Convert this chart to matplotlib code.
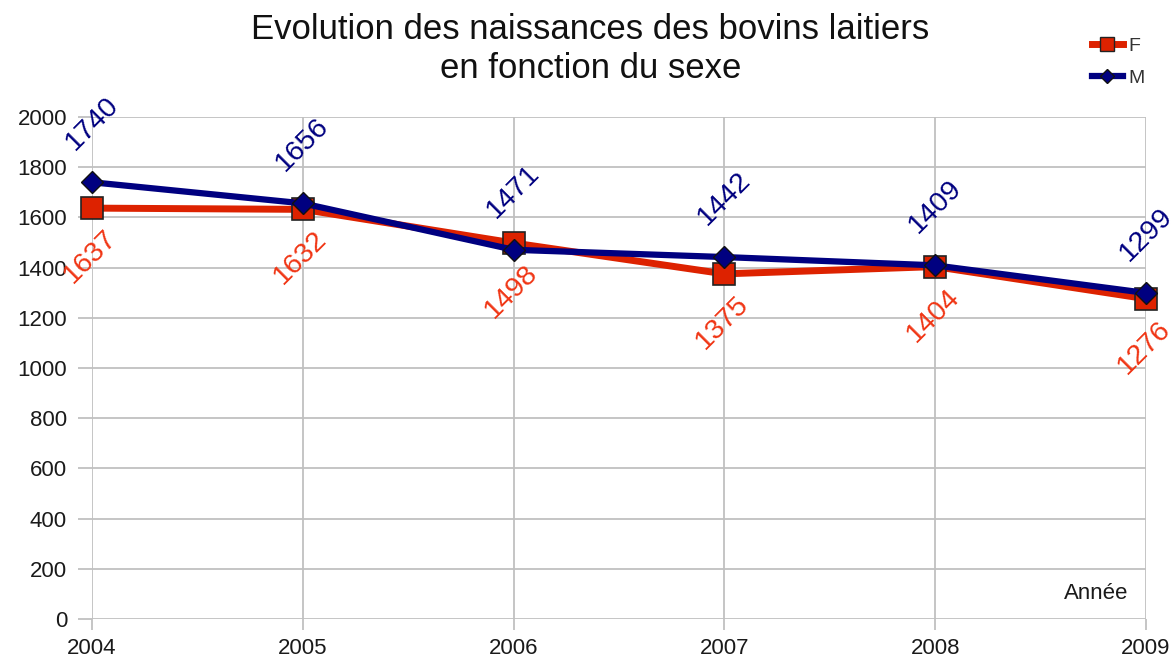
import matplotlib
matplotlib.use("Agg")
import matplotlib.pyplot as plt
from matplotlib.lines import Line2D

plt.rcParams['font.family'] = ['Liberation Sans', 'DejaVu Sans']

annees = [2004, 2005, 2006, 2007, 2008, 2009]
femelles = [1637, 1632, 1498, 1375, 1404, 1276]
males = [1740, 1656, 1471, 1442, 1409, 1299]
y_ticks = [0, 200, 400, 600, 800, 1000, 1200, 1400, 1600, 1800, 2000]

rouge = '#dd2200'
rouge_txt = '#f03514'
bleu = '#000080'
gris = '#c0c0c0'

fig = plt.figure(figsize=(11.76, 6.59), dpi=100)
ax = fig.add_axes([92 / 1176, 1 - 619 / 659, (1146 - 92) / 1176, (619 - 117) / 659])

ax.plot(annees, femelles, color=rouge, lw=5, marker='s', ms=16,
        mfc=rouge, mec='#222222', mew=1.2, zorder=3, clip_on=False)
ax.plot(annees, males, color=bleu, lw=4.5, marker='D', ms=11,
        mfc=bleu, mec='#111111', mew=1, zorder=4, clip_on=False)

# etiquettes des valeurs, tournees a 45 degres
for x, f, m in zip(annees, femelles, males):
    ax.annotate(str(f), (x, f), xytext=(-1.5, -35), textcoords='offset points',
                rotation=45, ha='center', va='center', fontsize=20.5,
                color=rouge_txt, annotation_clip=False, zorder=5)
    ax.annotate(str(m), (x, m), xytext=(0, 42), textcoords='offset points',
                rotation=45, ha='center', va='center', fontsize=20.5,
                color=bleu, annotation_clip=False, zorder=5)

ax.set_xlim(2004, 2009)
ax.set_ylim(0, 2000)
ax.set_xticks(annees)
ax.set_yticks(y_ticks)
ax.grid(True, color=gris, lw=1.3)
ax.set_axisbelow(True)
for s in ax.spines.values():
    s.set_visible(False)
ax.tick_params(axis='y', length=10, width=1.3, color=gris, labelsize=16,
               labelcolor='#1a1a1a', pad=8)
ax.tick_params(axis='x', length=8, width=1.3, color=gris, labelsize=16,
               labelcolor='#1a1a1a', pad=6)

ax.text(0.983, 0.05, 'Année', transform=ax.transAxes, ha='right', va='center',
        fontsize=16, color='#1a1a1a')

fig.text(0.502, 0.955, 'Evolution des naissances des bovins laitiers',
         ha='center', va='center', fontsize=25, color='#111111')
fig.text(0.502, 0.896, 'en fonction du sexe',
         ha='center', va='center', fontsize=25, color='#111111')

poignees = [
    Line2D([], [], color=rouge, lw=5, marker='s', ms=10, mfc=rouge, mec='#222222', mew=1),
    Line2D([], [], color=bleu, lw=4.5, marker='D', ms=7, mfc=bleu, mec='#111111', mew=1),
]
fig.legend(poignees, ['F', 'M'], loc='upper left', bbox_to_anchor=(1074 / 1176, 1 - 20 / 659),
           frameon=False, handlelength=1.6, handletextpad=0.3, labelspacing=0.75,
           fontsize=14, labelcolor='#333333')

fig.savefig('out.png', dpi=100, facecolor='white')
